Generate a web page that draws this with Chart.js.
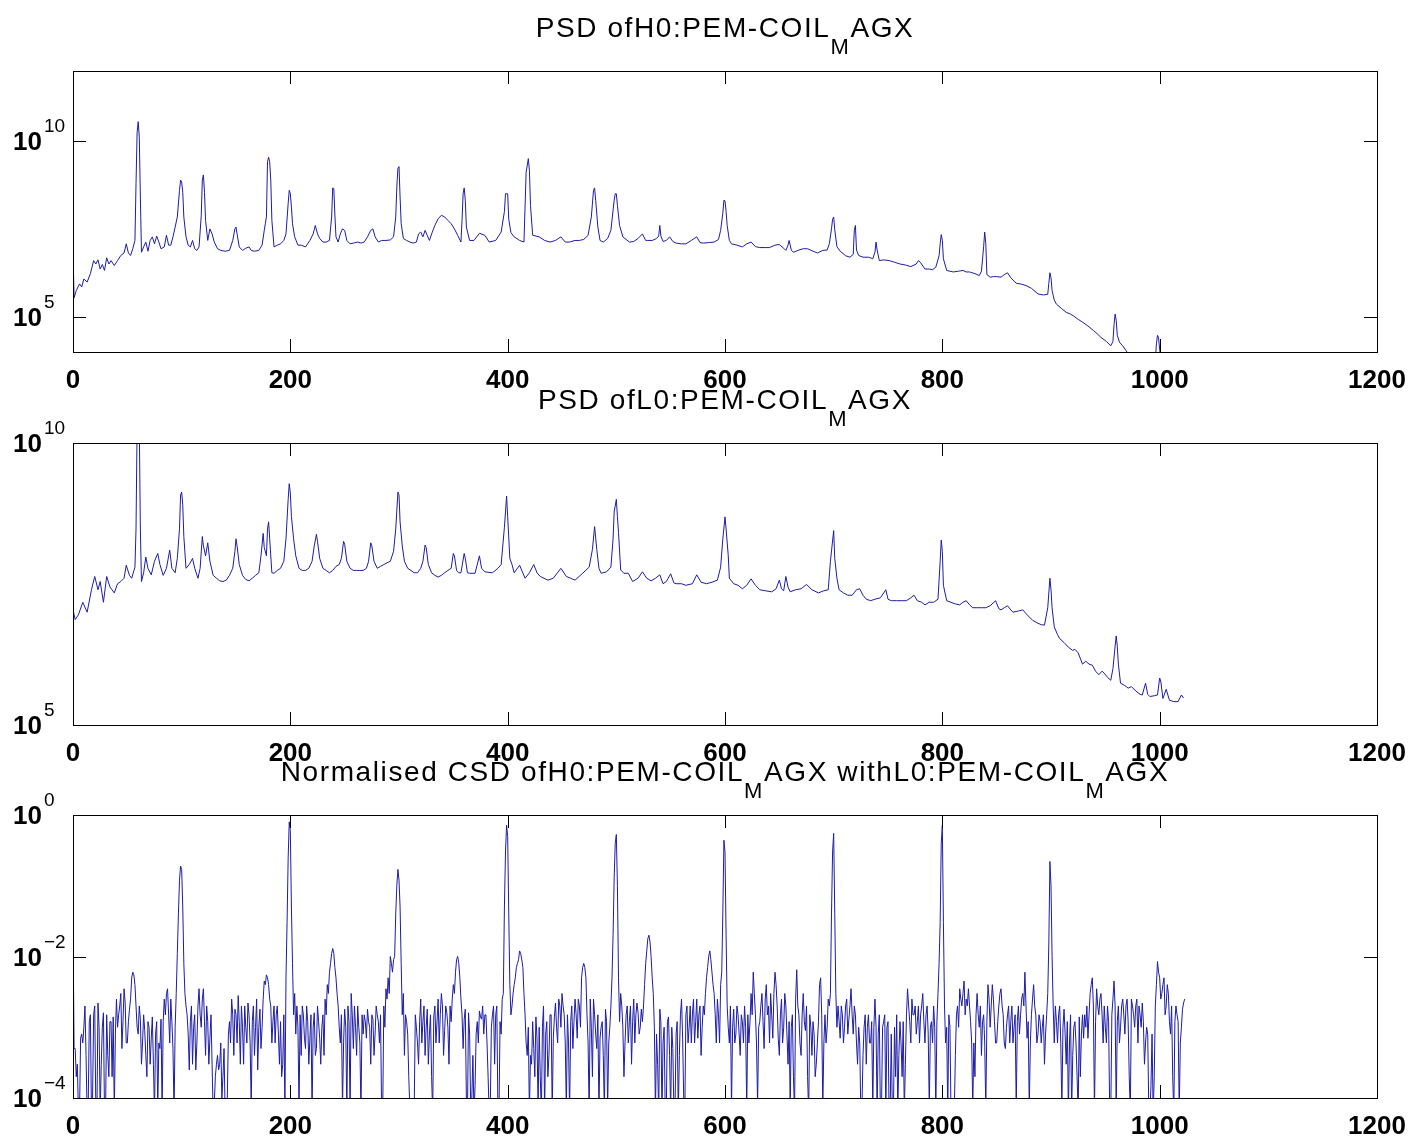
<!DOCTYPE html>
<html>
<head>
<meta charset="utf-8">
<title>PSD / CSD PEM-COIL_MAGX</title>
<script src="https://cdn.jsdelivr.net/npm/chart.js@4.4.1/dist/chart.umd.min.js"></script>
<style>
  html, body { margin: 0; padding: 0; background: #fff; }
  #wrap { position: relative; width: 1412px; height: 1138px; }
  #wrap canvas { position: absolute; left: 0; top: 0; }
</style>
</head>
<body>
<div id="wrap">
  <canvas id="cH0" width="1412" height="1138"></canvas>
  <canvas id="cL0" width="1412" height="1138"></canvas>
  <canvas id="cCsd" width="1412" height="1138"></canvas>
</div>
<script>
/* ---------- data ---------- */
const xTicks = [0, 200, 400, 600, 800, 1000, 1200];

// H0 PSD, frequency (Hz) / power
const h0Freq = [0,1,3,6,8,10,13,16,19,21,23,25,27,29,31,33,35,38,41,44,47,49,51,53,55,57,58,59,60,61,62,63,65,67,69,71,73,75,77,79,81,84,86,88,90,92,94,96,98,99,100,101,102,104,106,108,110,112,114,116,118,119,120,121,122,124,126,128,130,133,136,140,144,147,149,150,151,153,156,159,162,164,167,171,174,176,177,178,179,180,181,182,183,185,188,191,194,196,198,199,200,201,202,204,207,210,214,218,221,223,225,227,230,233,236,238,239,240,241,242,244,246,248,250,252,255,258,262,265,268,271,274,276,278,281,284,288,292,295,297,298,299,300,301,302,304,307,310,313,316,318,320,322,324,326,328,330,333,336,339,342,345,348,351,354,357,358,359,360,361,362,365,369,374,379,383,389,394,397,398,400,401,403,406,411,415,417,419,420,421,423,429,434,439,444,449,453,457,462,466,470,474,477,479,480,481,483,485,488,492,495,498,499,500,501,503,506,512,516,520,524,527,529,533,537,539,540,541,543,546,549,552,555,560,564,569,574,577,580,585,590,594,596,598,599,600,601,602,604,606,611,616,620,624,628,632,637,641,646,650,654,656,658,659,661,663,668,672,676,681,685,690,694,696,698,699,700,701,703,706,711,715,718,719,720,721,723,727,732,736,738,739,740,742,746,751,756,761,766,771,776,778,780,784,788,791,794,797,798,799,800,801,804,810,815,819,822,825,830,834,836,838,839,840,841,844,847,850,854,857,860,863,868,873,877,882,888,893,897,898,899,900,901,903,905,910,914,918,921,925,929,934,939,943,946,951,955,957,958,959,960,961,963,966,969,972,976,985,993,996,997,998,999,1000,1001,1005,1015,1023];
const h0Psd = [7.4e6,3.5e5,5.6e5,8.7e5,7.1e5,1.2e6,9.8e5,1.7e6,4e6,3.2e6,4.2e6,2.3e6,3.1e6,2.1e6,4.8e6,3.2e6,4e6,2.9e6,4e6,5.6e6,6.6e6,1.2e7,6.6e6,5.6e6,8.7e6,1.5e7,6.2e8,1.8e10,3.6e10,1.3e10,2.6e8,6.9e6,9.8e6,1.35e7,7.4e6,1.5e7,1.9e7,1.2e7,2e7,1.35e7,8.7e6,9.8e6,2.1e7,1.1e7,1.1e7,1.9e7,3.6e7,7e7,4e8,7.8e8,6.9e8,3.5e8,7e7,1.9e7,1.1e7,9.8e6,1.5e7,8.7e6,7.8e6,9.8e6,7.5e7,7.8e8,1.1e9,3.5e8,5.6e7,1.5e7,3.2e7,2.3e7,1.35e7,8.7e6,7.8e6,7.4e6,7.8e6,1.5e7,3.2e7,3.6e7,2.3e7,9.8e6,7.8e6,9e6,9.8e6,7.8e6,7.4e6,7.8e6,1.1e7,2.9e7,4.5e7,7e7,2.6e9,3.5e9,2.6e9,7.8e8,5.6e7,9.8e6,1.1e7,1.2e7,1.5e7,2.3e7,1.7e8,4e8,3.2e8,1.35e8,4.5e7,1.9e7,1.1e7,1.1e7,9.8e6,1.5e7,2.3e7,4e7,2.3e7,1.7e7,1.35e7,1.35e7,1.5e7,7e7,4.7e8,4.5e8,8e7,1.9e7,1.35e7,2.3e7,3.2e7,2.9e7,1.5e7,1.2e7,1.26e7,1.35e7,1.26e7,1.35e7,1.9e7,2.9e7,3.2e7,1.9e7,1.35e7,1.5e7,1.5e7,1.55e7,1.9e7,7e7,5e8,1.7e9,1.9e9,2.6e8,4.5e7,1.7e7,1.5e7,1.35e7,1.26e7,1.35e7,2.3e7,2.6e7,1.9e7,2.9e7,2.1e7,1.5e7,2.3e7,4e7,6.2e7,7.8e7,7e7,5.6e7,4.5e7,3.2e7,2.1e7,1.35e7,5.6e7,3.2e8,4.7e8,2.1e8,3.6e7,1.5e7,1.5e7,2.4e7,2.1e7,1.35e7,1.5e7,2.6e7,1e8,3.2e8,3.2e8,6e7,2.5e7,1.9e7,1.5e7,1.35e7,1.3e9,3.2e9,1.5e9,1.5e8,2.1e7,1.9e7,1.5e7,1.35e7,1.5e7,1.9e7,1.35e7,1.35e7,1.5e7,1.5e7,1.6e7,2.1e7,7e7,4e8,4.7e8,2.1e8,3.6e7,1.5e7,1.35e7,1.7e7,2.9e7,2.1e8,3.2e8,3.2e8,1.5e8,4e7,1.9e7,1.35e7,1.4e7,1.7e7,2.3e7,1.5e7,1.5e7,1.5e7,1.7e7,2e7,4e7,2e7,1.4e7,1.5e7,1.9e7,1.4e7,1.26e7,1.2e7,1.2e7,1.5e7,1.9e7,1.3e7,1.26e7,1.3e7,1.35e7,1.6e7,2.9e7,9e7,2.1e8,2e8,1e8,4e7,1.5e7,1.2e7,1.1e7,9.8e6,1.2e7,1.35e7,1e7,9.4e6,9.4e6,9.4e6,1.1e7,1.15e7,9e6,7.8e6,1.1e7,1.5e7,8e6,6.9e6,8e6,8.7e6,8.7e6,7.4e6,6.6e6,7.8e6,8e6,1.2e7,3.2e7,6e7,7e7,3e7,1e7,7.4e6,5.5e6,5e6,6e6,3e7,4e7,8e6,5.6e6,5e6,5e6,4.5e6,7e6,1.35e7,8e6,4e6,4.2e6,4e6,3.6e6,3.2e6,3e6,2.7e6,3.2e6,4e6,3.5e6,2.3e6,2.3e6,2.2e6,2.6e6,5.5e6,1.2e7,2.2e7,1.5e7,4.5e6,2.1e6,1.9e6,2e6,2.1e6,1.9e6,1.9e6,1.7e6,1.5e6,2e6,1e7,2.6e7,1.2e7,1.6e6,1.35e6,1.4e6,1.4e6,1.35e6,1.6e6,1.8e6,1.3e6,9.1e5,8.5e5,7.8e5,6.5e5,4.5e5,4.2e5,4.4e5,9e5,1.8e6,1.3e6,5.6e5,3e5,2.3e5,1.7e5,1.35e5,1.2e5,1.05e5,8.5e4,7.1e4,5.5e4,4.1e4,3.2e4,2.6e4,2e4,1.5e4,2e4,6e4,1.2e5,8e4,3e4,1.9e4,1.5e4,1.1e4,8e3,5.8e3,4e3,3.5e3,6e3,1.7e4,3e4,2.5e4,1.2e4,6e3,3e3,2.5e3,2e3];

// L0 PSD, frequency (Hz) / power
const l0Freq = [0,2,5,9,13,17,20,23,25,28,31,34,38,41,44,47,49,52,54,57,58,59,60,61,62,63,65,67,69,72,75,78,80,83,86,89,91,94,96,98,99,100,101,102,104,107,110,112,115,117,119,120,122,124,126,129,132,135,138,141,144,147,149,150,151,153,156,159,162,165,168,171,173,175,176,178,179,180,181,183,185,188,191,194,196,198,199,200,201,203,205,208,211,214,217,220,222,224,225,227,230,233,236,239,242,245,247,249,250,252,255,258,261,264,267,270,272,274,275,277,280,283,286,289,292,295,297,299,300,301,303,305,308,311,314,317,320,322,324,325,327,330,333,336,339,342,345,348,350,351,353,355,357,360,361,363,365,370,374,376,379,386,391,394,397,399,400,402,404,406,411,416,420,424,427,430,437,442,449,454,458,462,469,475,478,480,482,484,486,491,495,497,498,500,501,502,504,507,511,515,520,524,528,532,536,540,543,546,550,553,555,560,564,570,574,578,583,588,593,596,598,600,601,603,604,608,612,616,620,624,628,632,637,643,647,650,652,654,656,658,660,665,670,675,680,686,691,695,697,700,701,703,705,709,713,717,721,724,727,730,734,738,743,748,750,753,758,763,767,771,774,777,781,784,788,792,796,798,799,800,801,804,808,812,816,819,822,825,828,832,836,840,844,849,852,854,857,860,863,865,870,874,878,883,887,891,894,897,899,900,901,903,906,908,912,916,920,922,925,929,932,935,938,941,944,947,949,952,955,957,959,960,961,962,964,968,971,974,978,982,984,987,989,991,995,998,1000,1001,1003,1006,1009,1013,1017,1020,1022];
const l0Psd = [1.1e7,7.4e6,9e6,1.5e7,1e7,2.5e7,4.3e7,2.5e7,3.5e7,1.5e7,4.3e7,2.8e7,2.2e7,3.2e7,3.5e7,4e7,6.8e7,4.5e7,4e7,6.3e7,3e8,2e10,3e10,2e10,3e8,3.5e7,5e7,9.5e7,6e7,4.6e7,8e7,1.1e8,7e7,4.5e7,6e7,1.26e8,6e7,5e7,9e7,3e8,1.2e9,1.35e9,8e8,2.2e8,6e7,7e7,9e7,6e7,4e7,6e7,2.2e8,1.5e8,1e8,1.7e8,8e7,4.5e7,4e7,3.6e7,3.5e7,3.7e7,4.5e7,6e7,1.2e8,2e8,1.5e8,7e7,4.5e7,3.8e7,3.6e7,4e7,4.5e7,5e7,1e8,2.5e8,1.4e8,1e8,3e8,4e8,2e8,5e7,4.9e7,5.5e7,6e7,8e7,2e8,1e9,1.9e9,1.3e9,5e8,2e8,1e8,6e7,5.5e7,5.5e7,6e7,8e7,1.5e8,2.4e8,1.8e8,9e7,6e7,5.5e7,5e7,5.5e7,6.5e7,7e7,9e7,1.8e8,1.6e8,8e7,6e7,5.5e7,5.5e7,5.5e7,5.5e7,6e7,8e7,1.7e8,1.5e8,8e7,6e7,6.5e7,7e7,7.5e7,8e7,1.2e8,3e8,1.35e9,1.2e9,4e8,1.5e8,8e7,6e7,5.5e7,5e7,5e7,6e7,8e7,1.55e8,1.4e8,7e7,5e7,4.5e7,4.2e7,4.5e7,5e7,5.5e7,6e7,1.1e8,1e8,5.5e7,5e7,5e7,1.1e8,9e7,5e7,4.9e7,4.9e7,1e8,6e7,5.2e7,5e7,6e7,7e7,3.2e8,1.15e9,5e8,9e7,7e7,5e7,6.8e7,4e7,5e7,7e7,5e7,4.3e7,3.7e7,4e7,6e7,4.3e7,4e7,3.7e7,4.9e7,6.3e7,1.3e8,3.3e8,1.3e8,6e7,4.9e7,5.2e7,6.3e7,2e8,6e8,1e9,5e8,2.6e8,5.6e7,4.9e7,4.9e7,3.5e7,4e7,5.2e7,4e7,3.6e7,4e7,4.6e7,3.2e7,3.5e7,4.8e7,3.3e7,3.2e7,3.2e7,3e7,3.2e7,4.6e7,3.4e7,3.2e7,3.4e7,3.7e7,6.3e7,2e8,4.9e8,3e8,1e8,4e7,3.2e7,3e7,2.6e7,3e7,3.9e7,3e7,2.5e7,2.4e7,2.3e7,2.6e7,3.7e7,2.6e7,2.4e7,4.3e7,2.8e7,2.3e7,2.5e7,2.6e7,3.1e7,2.5e7,2.2e7,2.4e7,2.5e7,8e7,2.8e8,9e7,4e7,2.5e7,2.2e7,2e7,2e7,2.5e7,2.6e7,2e7,1.7e7,1.6e7,1.7e7,1.8e7,2.5e7,1.7e7,1.6e7,1.6e7,1.6e7,1.6e7,1.8e7,2e7,1.6e7,1.5e7,1.35e7,1.5e7,1.5e7,1.7e7,8e7,1.9e8,1.2e8,3e7,1.6e7,1.5e7,1.4e7,1.35e7,1.5e7,1.6e7,1.35e7,1.2e7,1.2e7,1.2e7,1.2e7,1.3e7,1.6e7,1.15e7,1.1e7,1.2e7,1.3e7,1.1e7,1e7,1.05e7,1.1e7,9e6,7.2e6,6.5e6,6e6,5.9e6,1.2e7,4e7,2.5e7,1.2e7,5.5e6,4e6,3.4e6,2.9e6,2.4e6,2.1e6,2.2e6,1.9e6,1.2e6,1.35e6,1.2e6,1.15e6,9e5,7.8e5,9e5,8.3e5,7e5,6.2e5,1e6,2.5e6,3.8e6,2.5e6,1.2e6,5.5e5,5e5,4.5e5,4.8e5,4e5,3.5e5,3.4e5,5.5e5,3.5e5,3.2e5,3.3e5,3.4e5,6.8e5,6e5,2.95e5,4.3e5,2.75e5,2.6e5,2.6e5,3.4e5,3e5];

// normalised CSD, one value every CSD_STEP Hz from 0 Hz (each row = 50 Hz)
const CSD_STEP = 1;
const csdVal = [
  2.6e-2,5e-4,5e-4,2e-4,3e-4,6e-5,6e-5,7e-4,8e-4,6e-4, 1e-3,2e-3,4e-4,6e-5,8e-5,1.2e-3,1.5e-3,6e-5,1e-4,1.5e-3, 2e-3,7e-5,6e-5,2.2e-3,1e-3,6e-5,3e-4,1e-3,1.6e-3,6e-5, 7e-5,1.5e-3,4e-4,2e-4,1.2e-3,1.2e-3,2e-4,1.4e-3,6e-5,8e-4, 2.5e-3,1e-3,1.5e-3,2e-3,3e-3,5e-4,1.2e-3,3.5e-3,2.2e-3,6e-4,
  6e-4,1.2e-3,1.8e-3,2.5e-3,5e-3,6e-3,5.5e-3,4e-3,2e-3,1e-3, 8e-4,2e-3,1.3e-3,3e-4,6e-4,1.5e-3,9e-4,4e-4,2e-4,1.2e-3, 1e-3,3e-4,7e-4,1.4e-3,3e-4,6e-5,8e-4,1.2e-3,7e-5,6e-4, 5e-4,1.3e-3,6e-5,1.2e-3,2.5e-3,1.5e-3,3e-3,3.5e-3,1.5e-3,6e-4, 2.5e-3,1.2e-3,5e-4,6e-5,1e-3,3e-3,1.1e-2,4e-2,0.12,0.19,
  0.17,5e-2,8e-3,3e-3,2e-3,1.5e-3,8e-4,2.5e-4,1.2e-3,2e-3, 3e-4,1e-3,1.5e-3,2.5e-4,6e-4,2e-3,3.5e-3,1.5e-3,1e-3,2.5e-3, 3.5e-3,1.2e-3,4e-4,2e-3,1.2e-3,3e-4,7e-4,1.5e-3,3e-4,6e-5, 8e-5,2e-4,3e-4,4e-4,2.5e-4,3e-4,6e-4,1e-4,2e-4,5e-4, 6e-5,6e-5,1e-4,8e-4,1.2e-3,6e-4,2.5e-3,1.5e-3,4e-4,1.8e-3,
  1.5e-3,6e-4,2.8e-3,1.2e-3,3e-4,2e-3,1e-3,3e-4,2e-3,1e-3, 6e-4,2.2e-3,1.5e-3,6e-4,7e-5,1.2e-3,2e-3,4e-4,1e-3,2.5e-3, 2.5e-4,1e-3,1.8e-3,5e-4,1e-3,2.5e-3,4.5e-3,4e-3,5.5e-3,5e-3, 4e-3,2.5e-3,2e-3,6e-4,1.2e-3,2e-3,6e-4,1.5e-3,2e-3,8e-4, 3e-4,1.2e-3,2e-4,3e-4,1.5e-3,7e-5,5e-3,3e-2,0.25,0.8,
  0.6,0.05,8e-3,1.5e-3,3e-3,8e-4,2e-3,1e-3,7e-5,1.5e-3, 4e-4,2e-3,1.5e-3,7e-4,5e-4,2e-3,1.2e-3,3e-4,7e-4,1.5e-3, 6e-5,1e-3,1.6e-3,4e-4,5e-4,2e-3,1.2e-3,7e-4,3e-4,1e-3, 1.5e-3,4e-4,2.5e-3,1.5e-3,4e-3,3e-3,6e-3,8e-3,1.1e-2,1.3e-2, 1.1e-2,7e-3,5e-3,3e-3,2e-3,1e-3,6e-4,1.5e-3,7e-5,6e-4,
  1.8e-3,1e-3,6e-5,2e-3,1.2e-3,6e-5,3e-3,1.5e-3,5e-4,2e-3, 1e-3,4e-4,2e-3,1e-3,6e-4,6e-5,1.5e-3,8e-4,1.5e-3,1.2e-3, 7e-4,1.8e-3,1.2e-3,1e-3,3e-4,1.5e-3,1.3e-3,4e-4,8e-4,2e-3, 1.5e-3,1.2e-3,6e-4,1.5e-3,7e-5,6e-5,2e-3,1e-3,3.5e-3,2.5e-3, 5e-3,3e-3,1e-2,8e-3,6e-3,9e-3,1e-2,4e-2,0.1,0.17,
  0.12,0.05,8e-3,1.5e-3,3e-3,4e-4,1.5e-3,1.2e-3,8e-4,2e-4, 7e-5,1e-4,6e-5,8e-5,7e-5,1.5e-3,1e-3,6e-4,3e-4,1.2e-3, 2.5e-3,6e-4,1.2e-3,2e-3,4e-4,1e-3,1.8e-3,3e-4,8e-4,1.5e-3, 2e-4,6e-5,1.4e-3,2e-3,6e-4,1.2e-3,2.5e-3,6e-4,1.5e-3,3e-3, 2e-3,4e-4,9e-4,2e-3,1.6e-3,1e-3,3e-4,2e-3,1.2e-3,2.5e-3,
  4e-3,3e-3,6e-3,9e-3,1e-2,8e-3,5e-3,2.5e-3,1.5e-3,5e-4, 1.3e-3,1.8e-3,1e-4,6e-5,1.6e-3,8e-4,6e-5,1e-4,4e-4,6e-5, 1.5e-4,8e-4,1.2e-3,6e-4,1.7e-3,1.4e-3,1.3e-3,2e-3,8e-4,1.5e-3, 1.5e-3,6e-4,2e-4,6e-5,7e-5,1e-3,1.5e-3,2e-3,3e-4,1.5e-3, 2e-3,7e-5,6e-5,1.2e-3,8e-4,2.5e-3,3e-3,5e-2,0.3,0.72,
  0.5,0.04,4e-3,1.5e-3,2e-3,3e-3,4e-3,5e-3,7e-3,8e-3, 9e-3,1.2e-2,1.1e-2,9e-3,7e-3,3e-3,1.5e-3,6e-4,4e-4,1e-3, 6e-5,4e-4,3e-4,1.2e-3,5e-4,2e-4,1.4e-3,7e-4,7e-5,1e-3, 2e-4,6e-5,1e-3,2e-3,6e-5,8e-4,1.2e-3,2e-4,4e-4,1.5e-3, 1.5e-3,6e-5,7e-4,1.4e-3,2.2e-3,1e-3,6e-4,2.5e-3,2e-3,1e-3,
  3e-3,2e-3,1.5e-3,6e-4,7e-5,1.5e-3,6e-4,6e-5,1.2e-3,2e-3, 5e-4,1.2e-3,2.5e-3,1.5e-3,7e-4,2.5e-3,2e-3,1e-3,5e-3,7e-3, 8e-3,7e-3,5e-3,1.5e-3,6e-4,6e-5,2.5e-3,1e-3,2e-4,2.5e-3, 1.5e-3,8e-4,5e-4,1.5e-3,6e-5,7e-4,1e-3,1.2e-3,4e-4,6e-5, 1.8e-3,1.2e-3,7e-5,6e-4,1e-3,2e-3,5e-3,2e-2,0.13,0.4,
  0.53,0.1,5e-3,1.2e-3,3e-3,2e-3,1e-3,2e-4,6e-4,1.5e-3, 2e-3,6e-4,1.2e-3,2e-3,3e-4,1.2e-3,2.5e-3,6e-4,1.5e-3,2.2e-3, 1.6e-3,8e-4,1e-3,1.8e-3,1.2e-3,2e-3,4e-3,8e-3,1.2e-2,1.8e-2, 2e-2,1.6e-2,1e-2,5e-3,3e-3,1e-3,6e-5,8e-4,3e-4,6e-5, 1.8e-3,1.2e-3,6e-5,6e-4,1e-3,6e-5,7e-5,1.2e-3,1.4e-3,4e-4,
  6e-5,1e-3,5e-4,6e-5,7e-5,8e-4,1.2e-3,6e-5,4e-4,1.5e-3, 2.5e-3,7e-4,1e-4,6e-5,1.5e-3,2e-3,6e-4,1e-3,2e-3,6e-4, 1.5e-3,2.5e-3,6e-4,1.2e-3,2.5e-3,7e-4,1.5e-3,2e-3,4e-4,1e-3, 2e-3,1.5e-3,3e-3,5e-3,7e-3,1e-2,1.2e-2,9e-3,6e-3,4e-3, 3e-3,1.5e-3,6e-4,2.5e-3,1.5e-3,6e-4,4e-3,6e-3,0.04,0.44,
  0.3,2e-2,2e-3,1e-3,6e-4,2e-3,7e-5,1e-3,1.8e-3,6e-4, 8e-4,2e-3,1.5e-3,8e-4,4e-4,1.5e-3,1.2e-3,6e-4,2e-3,1e-3, 7e-5,1.5e-3,6e-4,1.2e-3,3e-3,1.5e-3,6e-3,3e-3,1.5e-3,6e-4, 8e-5,1e-3,1.2e-3,2e-3,3e-3,1.2e-3,5e-4,2.5e-3,4e-3,1.5e-3, 2e-3,6e-4,3e-3,1.5e-3,7e-4,3e-3,6e-3,4e-3,2e-3,7e-4,
  4e-4,1.5e-3,2.5e-3,6e-4,1e-3,3e-3,2e-3,8e-4,3e-4,1.2e-3, 7e-5,1e-3,1.5e-3,2e-4,6e-5,2.5e-3,6.5e-3,2e-3,1.5e-3,6e-4, 4e-4,1.5e-3,3e-3,1.2e-3,9e-4,2e-3,2e-4,6e-5,1.5e-3,1e-3, 4e-4,1.2e-3,8e-4,2e-4,3e-4,6e-4,1.2e-3,4e-3,5e-3,1.5e-3, 7e-5,6e-4,1.5e-3,6e-4,1e-3,2.5e-3,2e-3,3e-3,0.04,0.3,
  0.55,0.04,3e-3,1e-3,2e-3,1.2e-3,7e-4,2e-3,1.5e-3,6e-4, 1e-3,2e-3,2.5e-3,8e-4,1.3e-3,2e-3,3.5e-3,1.5e-3,8e-4,2e-3, 1.5e-3,6e-4,3e-4,1e-3,6e-4,6e-5,7e-5,4e-4,1e-3,1.5e-3, 3e-4,1e-3,1.5e-3,6e-4,6e-4,1.2e-3,7e-5,1e-3,2.5e-3,1e-3, 6e-5,8e-4,1.5e-3,6e-5,7e-5,1e-3,1.2e-3,1.5e-3,6e-5,1e-3,
  1.2e-3,6e-5,7e-5,8e-4,6e-5,7e-5,1e-3,2e-4,1.5e-3,6e-5, 4e-4,1.2e-3,6e-4,2e-4,1.2e-3,6e-5,3e-4,1.5e-3,3.5e-3,2e-3, 1.2e-3,6e-4,2.5e-3,1.5e-3,1.5e-3,2e-3,8e-4,1.2e-3,2e-3,6e-4, 1.5e-3,2e-3,3e-3,1.2e-3,6e-4,1.5e-3,2e-3,8e-4,7e-5,1e-3, 1.2e-3,6e-4,2e-3,1e-3,6e-5,1.2e-3,3e-3,8e-3,0.03,0.4,
  0.72,0.03,2e-3,6e-4,1e-3,6e-5,1.5e-3,1e-3,6e-5,1e-4, 7e-5,6e-5,4e-4,1.5e-3,2e-3,1e-3,3.5e-3,2.5e-3,2e-3,3e-3, 4.5e-3,1.5e-3,2.5e-3,2e-3,3.5e-3,2e-3,1.2e-3,6e-4,7e-5,6e-4, 2e-4,1.5e-3,3e-3,1.5e-3,1e-3,2e-3,4e-4,1.2e-3,1.5e-3,6e-4, 7e-5,1.2e-3,4e-3,2.5e-3,1e-3,2e-3,4e-3,2.5e-3,1.2e-3,6e-4,
  6e-4,1.2e-3,2e-3,3e-3,3.5e-3,2e-3,1.5e-3,6e-4,5e-4,1e-3, 1.5e-3,2e-3,6e-4,1.2e-3,2e-3,6e-4,1e-3,1.5e-3,7e-5,1.2e-3, 2e-3,8e-4,1.5e-3,2.5e-3,3e-3,2e-3,6e-3,2e-3,7e-4,1.2e-3, 7e-5,6e-4,1.5e-3,2.5e-3,4e-3,2e-3,1.5e-3,6e-4,8e-4,1.5e-3, 1.2e-3,6e-4,1e-3,1.5e-3,3e-4,8e-4,1.5e-3,3e-3,0.015,0.22,
  0.1,1e-2,2e-3,6e-4,2e-3,1.2e-3,6e-4,1.5e-3,2e-3,6e-4, 7e-5,1e-3,1.8e-3,8e-4,3e-4,1.2e-3,6e-5,6e-4,1.5e-3,6e-5, 4e-4,1e-3,1.2e-3,6e-4,2e-4,6e-5,1.4e-3,2e-4,8e-4,1.5e-3, 7e-4,1.5e-3,1e-3,2e-3,7e-4,1.5e-3,3e-3,4e-3,5e-3,2e-3, 6e-5,1.2e-3,3.5e-3,2e-3,1.5e-3,2.5e-3,3e-3,1.5e-3,6e-4,2e-3,
  1e-3,6e-4,2e-3,1.2e-3,7e-5,6e-5,1.5e-3,2.5e-3,4.5e-3,2e-3, 6e-5,1.2e-3,2e-3,6e-4,1e-3,2e-3,2.5e-3,1.5e-3,8e-4,2e-3, 2.5e-3,1.2e-3,2e-4,6e-5,2.5e-3,2e-3,1.5e-3,1e-3,2e-3,2.5e-3, 6e-4,2e-3,1.5e-3,1e-3,2.2e-3,1.2e-3,3e-4,6e-4,1e-3,8e-4, 7e-5,6e-5,1.5e-4,8e-4,6e-5,2e-4,2e-3,4e-3,8.5e-3,6e-3,
  5e-3,2.5e-3,3e-3,4e-3,5e-3,1.5e-3,2e-3,4e-3,3e-3,1.2e-3, 8e-4,2e-3,2e-4,6e-5,1.2e-3,2e-3,1.5e-3,1.2e-3,6e-5,6e-4, 1e-3,1.8e-3,2.2e-3,2.5e-3
];

// y tick exponents per panel (labels are 10^e)
const h0YExp = [5, 10];
const l0YExp = [5, 10];
const csdYExp = [0, -2, -4];

// titles, odd entries are subscripts
const h0Title = ['PSD ofH0:PEM-COIL', 'M', 'AGX'];
const l0Title = ['PSD ofL0:PEM-COIL', 'M', 'AGX'];
const csdTitle = ['Normalised CSD ofH0:PEM-COIL', 'M', 'AGX withL0:PEM-COIL', 'M', 'AGX'];

/* ---------- look ---------- */
const W = 1412, H = 1138;
const LINE = '#1c1ca8';
const TICK = 13;
const FONT = '"Liberation Sans", Arial, Helvetica, sans-serif';

function framePlugin(p) {
  return {
    id: 'frame',
    afterDraw(chart) {
      const ctx = chart.ctx, a = chart.chartArea;
      const sx = chart.scales.x, sy = chart.scales.y;
      ctx.save();
      ctx.strokeStyle = '#000';
      ctx.lineWidth = 1;
      ctx.strokeRect(a.left + .5, a.top + .5, a.right - a.left, a.bottom - a.top);
      ctx.beginPath();
      xTicks.forEach(v => {
        const px = Math.round(sx.getPixelForValue(v)) + .5;
        ctx.moveTo(px, a.bottom); ctx.lineTo(px, a.bottom - TICK);
        ctx.moveTo(px, a.top); ctx.lineTo(px, a.top + TICK);
      });
      p.yExp.forEach(e => {
        const py = Math.round(sy.getPixelForValue(Math.pow(10, e))) + .5;
        ctx.moveTo(a.left, py); ctx.lineTo(a.left + TICK, py);
        ctx.moveTo(a.right, py); ctx.lineTo(a.right - TICK, py);
      });
      ctx.stroke();

      ctx.fillStyle = '#000';
      ctx.textBaseline = 'alphabetic';
      // x labels
      ctx.font = 'bold 26px ' + FONT;
      ctx.textAlign = 'center';
      xTicks.forEach(v => ctx.fillText(String(v), sx.getPixelForValue(v), a.bottom + 36));
      // y labels 10^e
      p.yExp.forEach(e => {
        const py = sy.getPixelForValue(Math.pow(10, e));
        ctx.font = 'bold 26px ' + FONT;
        ctx.textAlign = 'right';
        ctx.fillText('10', 42, py + 9);
        ctx.font = '19px ' + FONT;
        ctx.textAlign = 'left';
        ctx.fillText(String(e).replace('-', '\u2212'), 44, py - 9);
      });
      // title with subscripts, spaced out like the original
      const big = '28px ' + FONT, small = '22px ' + FONT;
      ctx.letterSpacing = '1.6px';
      ctx.textAlign = 'left';
      let total = 0;
      p.title.forEach((t, i) => { ctx.font = i % 2 ? small : big; total += ctx.measureText(t).width; });
      let x = (a.left + a.right) / 2 - total / 2;
      const base = a.top - 34;
      p.title.forEach((t, i) => {
        ctx.font = i % 2 ? small : big;
        ctx.fillText(t, x, i % 2 ? base + 17 : base);
        x += ctx.measureText(t).width;
      });
      ctx.restore();
    }
  };
}

function makeChart(id, p, points) {
  return new Chart(document.getElementById(id), {
    type: 'line',
    data: { datasets: [{ data: points, borderColor: LINE, borderWidth: 1, pointRadius: 0, tension: 0, fill: false }] },
    options: {
      responsive: false, animation: false, events: [],
      layout: { padding: { left: p.area[0], top: p.area[1], right: W - p.area[2], bottom: H - p.area[3] } },
      plugins: { legend: { display: false }, tooltip: { enabled: false } },
      scales: {
        x: { type: 'linear', min: 0, max: 1200, display: false },
        y: { type: 'logarithmic', min: Math.pow(10, p.yRange[0]), max: Math.pow(10, p.yRange[1]), display: false }
      }
    },
    plugins: [framePlugin(p)]
  });
}

makeChart('cH0', { area: [73, 71, 1377, 352], yRange: [4, 12], yExp: h0YExp, title: h0Title },
  h0Freq.map((f, i) => ({ x: f, y: h0Psd[i] })));
makeChart('cL0', { area: [73, 443, 1377, 725], yRange: [5, 10], yExp: l0YExp, title: l0Title },
  l0Freq.map((f, i) => ({ x: f, y: l0Psd[i] })));
makeChart('cCsd', { area: [73, 815, 1377, 1098], yRange: [-4, 0], yExp: csdYExp, title: csdTitle },
  csdVal.map((v, i) => ({ x: i * CSD_STEP, y: v })));
</script>
</body>
</html>
